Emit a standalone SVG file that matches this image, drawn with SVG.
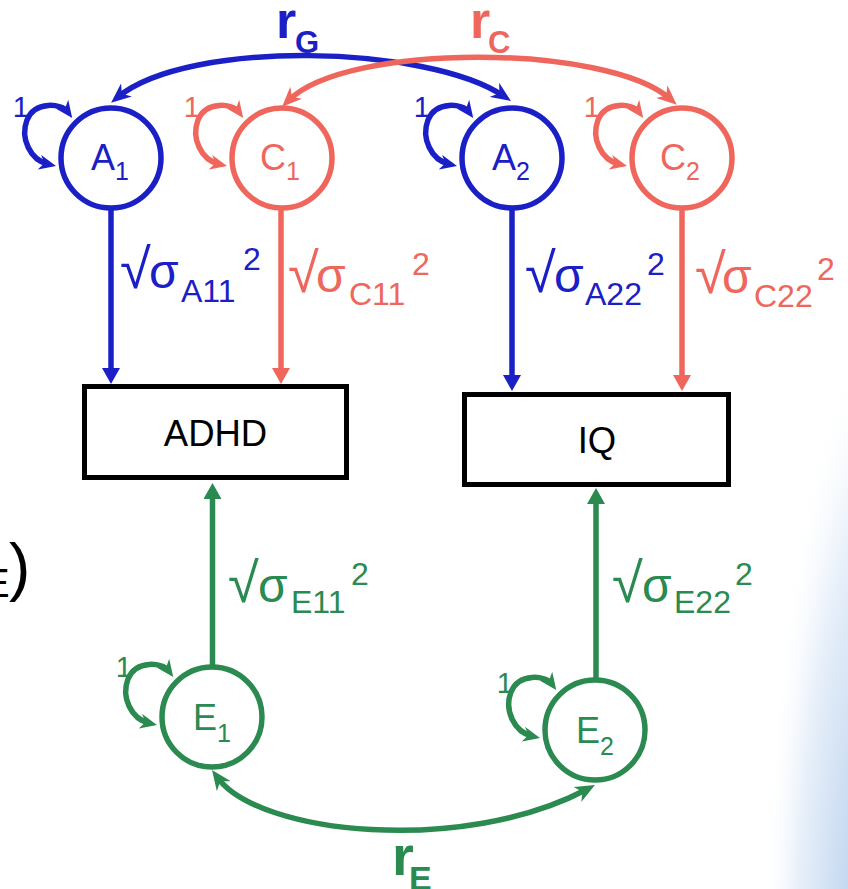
<svg xmlns="http://www.w3.org/2000/svg" xmlns:xlink="http://www.w3.org/1999/xlink" width="848" height="889" viewBox="0 0 848 889">
<style>
text{font-family:"Liberation Sans",Arial,Helvetica,sans-serif}
.node{fill:none;stroke-width:5.5}
.blue{stroke:#1a20c6}
.red{stroke:#ef665c}
.green{stroke:#2a8a4f}
.tb{fill:#1a20c6}
.tr{fill:#ef665c}
.tg{fill:#2a8a4f}
.edge{fill:none;stroke-width:5.5}
.loop{fill:none;stroke-width:5.5}
.box{fill:#fff;stroke:#000;stroke-width:5}
.one{font-size:29px;text-anchor:end}
.rad{font-size:56px}
.big{font-size:48px}
.sm{font-size:32px}
.rr{font-weight:bold}
</style>
<defs>
<radialGradient id="glow" gradientUnits="userSpaceOnUse" cx="900" cy="1000" r="140" gradientTransform="translate(900 1000) scale(1 5) translate(-900 -1000)">
<stop offset="0" stop-color="#b5cdeb"/>
<stop offset="0.4" stop-color="#c4d8f0"/>
<stop offset="0.75" stop-color="#e8f0fa"/>
<stop offset="1" stop-color="#ffffff" stop-opacity="0"/>
</radialGradient>
<marker id="ahB" viewBox="0 0 16 18" markerWidth="16" markerHeight="18" markerUnits="userSpaceOnUse" refX="3" refY="9" orient="auto"><path d="M0,0 L16,9 L0,18 z" fill="#1a20c6"/></marker>
<marker id="ahR" viewBox="0 0 16 18" markerWidth="16" markerHeight="18" markerUnits="userSpaceOnUse" refX="3" refY="9" orient="auto"><path d="M0,0 L16,9 L0,18 z" fill="#ef665c"/></marker>
<marker id="ahG" viewBox="0 0 16 18" markerWidth="16" markerHeight="18" markerUnits="userSpaceOnUse" refX="3" refY="9" orient="auto"><path d="M0,0 L16,9 L0,18 z" fill="#2a8a4f"/></marker>
<marker id="bbB" viewBox="0 0 20 17" markerWidth="20" markerHeight="17" markerUnits="userSpaceOnUse" refX="11" refY="8.5" orient="auto-start-reverse"><path d="M0,0 L20,8.5 L0,17 L6,8.5 z" fill="#1a20c6"/></marker>
<marker id="bbR" viewBox="0 0 20 17" markerWidth="20" markerHeight="17" markerUnits="userSpaceOnUse" refX="11" refY="8.5" orient="auto-start-reverse"><path d="M0,0 L20,8.5 L0,17 L6,8.5 z" fill="#ef665c"/></marker>
<marker id="bbG" viewBox="0 0 20 17" markerWidth="20" markerHeight="17" markerUnits="userSpaceOnUse" refX="11" refY="8.5" orient="auto-start-reverse"><path d="M0,0 L20,8.5 L0,17 L6,8.5 z" fill="#2a8a4f"/></marker>
<marker id="lpB" viewBox="0 0 17 15" markerWidth="17" markerHeight="15" markerUnits="userSpaceOnUse" refX="9" refY="7.5" orient="auto-start-reverse"><path d="M0,0 L17,7.5 L0,15 L5,7.5 z" fill="#1a20c6"/></marker>
<marker id="lpR" viewBox="0 0 17 15" markerWidth="17" markerHeight="15" markerUnits="userSpaceOnUse" refX="9" refY="7.5" orient="auto-start-reverse"><path d="M0,0 L17,7.5 L0,15 L5,7.5 z" fill="#ef665c"/></marker>
<marker id="lpG" viewBox="0 0 17 15" markerWidth="17" markerHeight="15" markerUnits="userSpaceOnUse" refX="9" refY="7.5" orient="auto-start-reverse"><path d="M0,0 L17,7.5 L0,15 L5,7.5 z" fill="#2a8a4f"/></marker>
<path id="loopPath" d="M-43.5,-46.5 C-49,-54 -76,-58 -84,-38 C-91,-20 -81,2 -62.8,6.2"/>
</defs>
<rect width="848" height="889" fill="#fff"/>
<rect x="700" y="0" width="148" height="889" fill="url(#glow)"/>

<g id="fragment">
<text x="-17" y="597" font-size="40" fill="#000">E</text>
<text x="9" y="589" font-size="64" fill="#000">)</text>
</g>

<g id="connectors">
<path class="edge blue" d="M111,208 V371" marker-end="url(#ahB)"/>
<path class="edge red" d="M281,208 V371" marker-end="url(#ahR)"/>
<path class="edge blue" d="M512,208 V378" marker-end="url(#ahB)"/>
<path class="edge red" d="M682,208 V378" marker-end="url(#ahR)"/>
<path class="edge green" d="M212.5,666 V496" marker-end="url(#ahG)"/>
<path class="edge green" d="M596,679 V501" marker-end="url(#ahG)"/>
<path class="edge blue" d="M118,97 C188,39 428,45 503.5,96" marker-start="url(#bbB)" marker-end="url(#bbB)"/>
<path class="edge red" d="M288.5,100.5 C347,42 608,44 670,98.8" marker-start="url(#bbR)" marker-end="url(#bbR)"/>
<path class="edge green" d="M217.3,777.3 C259,835 463,855 587,789.3" marker-start="url(#bbG)" marker-end="url(#bbG)"/>
<use href="#loopPath" class="loop blue" transform="translate(111,158)" marker-start="url(#lpB)" marker-end="url(#lpB)"/>
<use href="#loopPath" class="loop red" transform="translate(282,158)" marker-start="url(#lpR)" marker-end="url(#lpR)"/>
<use href="#loopPath" class="loop blue" transform="translate(512,158)" marker-start="url(#lpB)" marker-end="url(#lpB)"/>
<use href="#loopPath" class="loop red" transform="translate(682,158)" marker-start="url(#lpR)" marker-end="url(#lpR)"/>
<use href="#loopPath" class="loop green" transform="translate(212,717)" marker-start="url(#lpG)" marker-end="url(#lpG)"/>
<use href="#loopPath" class="loop green" transform="translate(595,730)" marker-start="url(#lpG)" marker-end="url(#lpG)"/>
</g>

<g id="A1" transform="translate(111,158)">
<circle class="node blue" r="50"/>
<text class="tb" x="-20" y="12" font-size="36">A<tspan font-size="25" dy="10">1</tspan></text>
<text class="tb one" x="-82" y="-41">1</text>
</g>
<g id="C1" transform="translate(282,158)">
<circle class="node red" r="50"/>
<text class="tr" x="-22" y="12" font-size="36">C<tspan font-size="25" dy="10">1</tspan></text>
<text class="tr one" x="-82" y="-41">1</text>
</g>
<g id="A2" transform="translate(512,158)">
<circle class="node blue" r="50"/>
<text class="tb" x="-20" y="12" font-size="36">A<tspan font-size="25" dy="10">2</tspan></text>
<text class="tb one" x="-82" y="-41">1</text>
</g>
<g id="C2" transform="translate(682,158)">
<circle class="node red" r="50"/>
<text class="tr" x="-22" y="12" font-size="36">C<tspan font-size="25" dy="10">2</tspan></text>
<text class="tr one" x="-82" y="-41">1</text>
</g>
<g id="E1" transform="translate(212,717)">
<circle class="node green" r="50"/>
<text class="tg" x="-19" y="13" font-size="36">E<tspan font-size="25" dy="12">1</tspan></text>
<text class="tg one" x="-80" y="-40">1</text>
</g>
<g id="E2" transform="translate(595,730)">
<circle class="node green" r="50"/>
<text class="tg" x="-19" y="13" font-size="36">E<tspan font-size="25" dy="12">2</tspan></text>
<text class="tg one" x="-82" y="-37">1</text>
</g>
<g id="ADHD">
<rect class="box" x="84.5" y="386.5" width="262" height="91"/>
<text x="215.5" y="446" font-size="36.5" text-anchor="middle" fill="#000">ADHD</text>
</g>
<g id="IQ">
<rect class="box" x="464.5" y="394.5" width="264" height="90"/>
<text x="597" y="453" font-size="36.5" text-anchor="middle" fill="#000">IQ</text>
</g>

<g id="labels">
<text class="tb rr"><tspan x="276" y="38" font-size="52">r</tspan><tspan x="295" y="53" font-size="31">G</tspan></text>
<text class="tr rr"><tspan x="470" y="38" font-size="52">r</tspan><tspan x="488" y="53" font-size="31">C</tspan></text>
<text class="tg rr"><tspan x="392" y="875" font-size="56">r</tspan><tspan x="409" y="890" font-size="34">E</tspan></text>
<text class="tb"><tspan class="rad" x="120" y="288">√</tspan><tspan class="big" x="149" y="288">σ</tspan><tspan class="sm" x="181" y="302">A11</tspan><tspan class="sm" x="243" y="270">2</tspan></text>
<text class="tr"><tspan class="rad" x="288" y="292">√</tspan><tspan class="big" x="316" y="292">σ</tspan><tspan class="sm" x="349" y="305">C11</tspan><tspan class="sm" x="412" y="275">2</tspan></text>
<text class="tb"><tspan class="rad" x="525" y="292">√</tspan><tspan class="big" x="554" y="292">σ</tspan><tspan class="sm" x="585" y="305">A22</tspan><tspan class="sm" x="647" y="275">2</tspan></text>
<text class="tr"><tspan class="rad" x="695" y="293">√</tspan><tspan class="big" x="722" y="293">σ</tspan><tspan class="sm" x="754" y="307">C22</tspan><tspan class="sm" x="817" y="280">2</tspan></text>
<text class="tg"><tspan class="rad" x="228" y="602">√</tspan><tspan class="big" x="258" y="602">σ</tspan><tspan class="sm" x="291" y="613">E11</tspan><tspan class="sm" x="351" y="585">2</tspan></text>
<text class="tg"><tspan class="rad" x="612" y="602">√</tspan><tspan class="big" x="642" y="602">σ</tspan><tspan class="sm" x="674" y="613">E22</tspan><tspan class="sm" x="735" y="585">2</tspan></text>
</g>
</svg>
